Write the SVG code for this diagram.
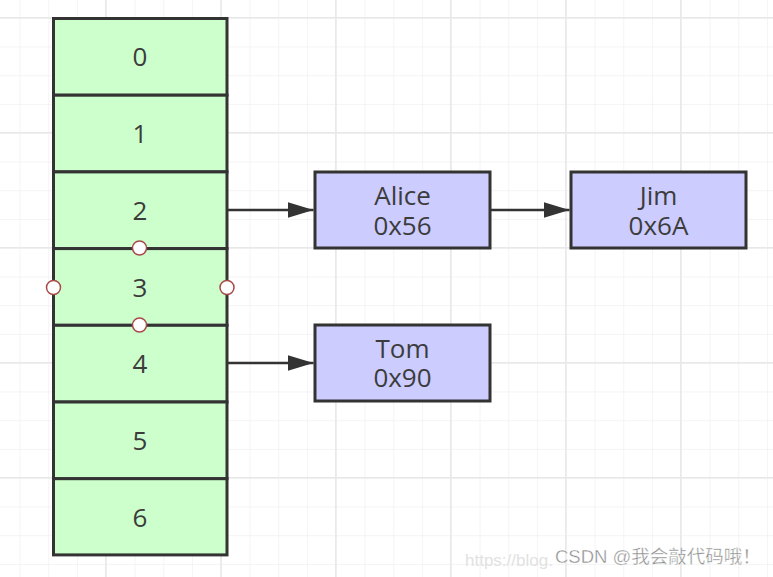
<svg xmlns="http://www.w3.org/2000/svg" width="773" height="577" viewBox="0 0 773 577">
  <defs>
    <pattern id="gridMinor" x="19.55" y="17.7" width="28.75" height="28.75" patternUnits="userSpaceOnUse">
      <path d="M0,0 H28.75 M0,0 V28.75" fill="none" stroke="#f1f1f1" stroke-width="1.5"/>
    </pattern>
    <marker id="arrow" markerUnits="userSpaceOnUse" markerWidth="26" markerHeight="16" refX="26" refY="8" orient="auto">
      <path d="M0,0 L26,8 L0,16 z" fill="#333"/>
    </marker>
    <style>
      .cell { fill: #ccffcc; stroke: #333; stroke-width: 3; }
      .node { fill: #ccccff; stroke: #333; stroke-width: 3; }
      .lbl { font-family: "Open Sans", "Noto Sans", sans-serif; font-size: 26px; fill: #3c3c3c; text-anchor: middle; }
      .edge { stroke: #333; stroke-width: 2.5; fill: none; marker-end: url(#arrow); }
      .handle { fill: #fff; stroke: #a84a4a; stroke-width: 1.5; }
      .major { stroke: #e8e8e8; stroke-width: 1.5; }
    </style>
  </defs>
  <rect width="773" height="577" fill="#fff"/>
  <rect width="773" height="577" fill="url(#gridMinor)"/>
  <g id="grid-major">
    <path class="major" d="M105.8,0 V577 M221,0 V577 M335.8,0 V577 M450.8,0 V577 M565.8,0 V577 M680.8,0 V577 M0,17.7 H773 M0,132.7 H773 M0,247.7 H773 M0,362.7 H773 M0,477.7 H773"/>
  </g>

  <g id="table">
    <g id="row0"><rect class="cell" x="53.5" y="18.5" width="173.5" height="76.7"/><text class="lbl" x="140" y="66">0</text></g>
    <g id="row1"><rect class="cell" x="53.5" y="95.2" width="173.5" height="76.7"/><text class="lbl" x="140" y="143">1</text></g>
    <g id="row2"><rect class="cell" x="53.5" y="171.9" width="173.5" height="76.7"/><text class="lbl" x="140" y="219.5">2</text></g>
    <g id="row3"><rect class="cell" x="53.5" y="248.6" width="173.5" height="76.7"/><text class="lbl" x="140" y="296.5">3</text></g>
    <g id="row4"><rect class="cell" x="53.5" y="325.3" width="173.5" height="76.7"/><text class="lbl" x="140" y="373">4</text></g>
    <g id="row5"><rect class="cell" x="53.5" y="402" width="173.5" height="76.7"/><text class="lbl" x="140" y="449.5">5</text></g>
    <g id="row6"><rect class="cell" x="53.5" y="478.7" width="173.5" height="76.2"/><text class="lbl" x="140" y="526.5">6</text></g>
  </g>

  <g id="handles">
    <circle class="handle" cx="139.5" cy="248" r="7"/>
    <circle class="handle" cx="139.5" cy="325" r="7"/>
    <circle class="handle" cx="53.5" cy="287.5" r="7"/>
    <circle class="handle" cx="227" cy="287.5" r="7"/>
  </g>

  <g id="connectors">
    <line class="edge" x1="228" y1="210" x2="313.5" y2="210"/>
    <line class="edge" x1="491" y1="210" x2="569.5" y2="210"/>
    <line class="edge" x1="228" y1="363" x2="313.5" y2="363"/>
  </g>

  <g id="alice">
    <rect class="node" x="315" y="172" width="175" height="76"/>
    <text class="lbl" x="402.5" y="205">Alice</text>
    <text class="lbl" x="402.5" y="234.5">0x56</text>
  </g>
  <g id="jim">
    <rect class="node" x="571" y="172" width="175" height="76"/>
    <text class="lbl" x="658.5" y="205">Jim</text>
    <text class="lbl" x="658.5" y="234.5">0x6A</text>
  </g>
  <g id="tom">
    <rect class="node" x="315" y="325" width="175" height="76"/>
    <text class="lbl" x="402.5" y="357.5">Tom</text>
    <text class="lbl" x="402.5" y="387">0x90</text>
  </g>

  <g id="watermark">
    <text x="465" y="566" font-family="'Liberation Sans', sans-serif" font-size="17" fill="#e2e2e2">https://blog.</text>
    <text x="555" y="563" font-family="'Liberation Sans', 'Noto Sans CJK SC', sans-serif" font-size="18.5" fill="#8a8a8a" stroke="#fff" stroke-width="0.4">CSDN @我会敲代码哦！</text>
  </g>
</svg>
